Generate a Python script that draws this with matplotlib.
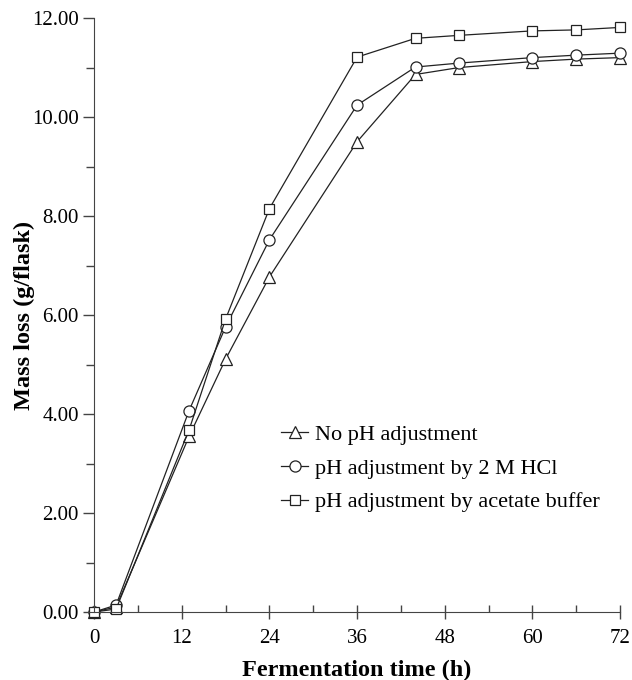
import numpy as np
import matplotlib
matplotlib.use("Agg")
import matplotlib.pyplot as plt
from matplotlib.ticker import MultipleLocator, FormatStrFormatter

plt.rcParams['font.family'] = 'Liberation Serif'
plt.rcParams['font.size'] = 15

# Fermentation time (h)
hours = [0, 3, 13, 18, 24, 36, 44, 50, 60, 66, 72]

# Mass loss (g/flask)
no_adj = [0.0, 0.10, 3.55, 5.11, 6.77, 9.50, 10.86, 11.00, 11.12, 11.17, 11.20]
hcl_adj = [0.0, 0.14, 4.07, 5.76, 7.52, 10.24, 11.01, 11.09, 11.20, 11.25, 11.29]
buffer_adj = [0.0, 0.06, 3.68, 5.92, 8.15, 11.21, 11.59, 11.65, 11.74, 11.76, 11.81]

labels = ["No pH adjustment", "pH adjustment by 2 M HCl", "pH adjustment by acetate buffer"]

fig = plt.figure(figsize=(6.32, 6.8), dpi=100)
ax = fig.add_axes([0.149, 0.1, 0.832, 0.8735])

style = dict(color='#222222', linewidth=0.9, markerfacecolor='white',
             markeredgecolor='#222222', markeredgewidth=0.9, clip_on=False)
ax.plot(hours, no_adj, marker='^', markersize=8, label=labels[0], **style)
ax.plot(hours, hcl_adj, marker='o', markersize=8, label=labels[1], **style)
ax.plot(hours, buffer_adj, marker='s', markersize=7.5, label=labels[2], **style)

ax.set_xlim(0, 72)
ax.set_ylim(0, 12)
ax.spines['top'].set_visible(False)
ax.spines['right'].set_visible(False)
ax.spines['left'].set_color('#444444')
ax.spines['bottom'].set_color('#444444')
ax.spines['bottom'].set_bounds(-0.8, 72)

ax.xaxis.set_major_locator(MultipleLocator(12))
ax.xaxis.set_minor_locator(MultipleLocator(6))
ax.yaxis.set_major_locator(MultipleLocator(2))
ax.yaxis.set_minor_locator(MultipleLocator(1))
ax.yaxis.set_major_formatter(FormatStrFormatter('%.2f'))

ax.tick_params(axis='x', which='major', direction='inout', length=10, width=1, color='#444444', pad=7)
ax.tick_params(axis='x', which='minor', direction='in', length=5, width=1, color='#444444')
ax.tick_params(axis='y', which='major', direction='out', length=8, width=1, color='#444444', pad=3)
ax.tick_params(axis='y', which='minor', direction='out', length=6, width=1, color='#444444')

ax.set_xlabel("Fermentation time (h)", fontsize=17.5, fontweight='bold', labelpad=9)
ax.set_ylabel("Mass loss (g/flask)", fontsize=17.5, fontweight='bold', labelpad=-2)

ax.legend(loc='upper left', bbox_to_anchor=(0.318, 0.35), frameon=False,
          handlelength=1.2, handletextpad=0.3, labelspacing=0.6, fontsize=16)

fig.savefig("out.png", dpi=100)
